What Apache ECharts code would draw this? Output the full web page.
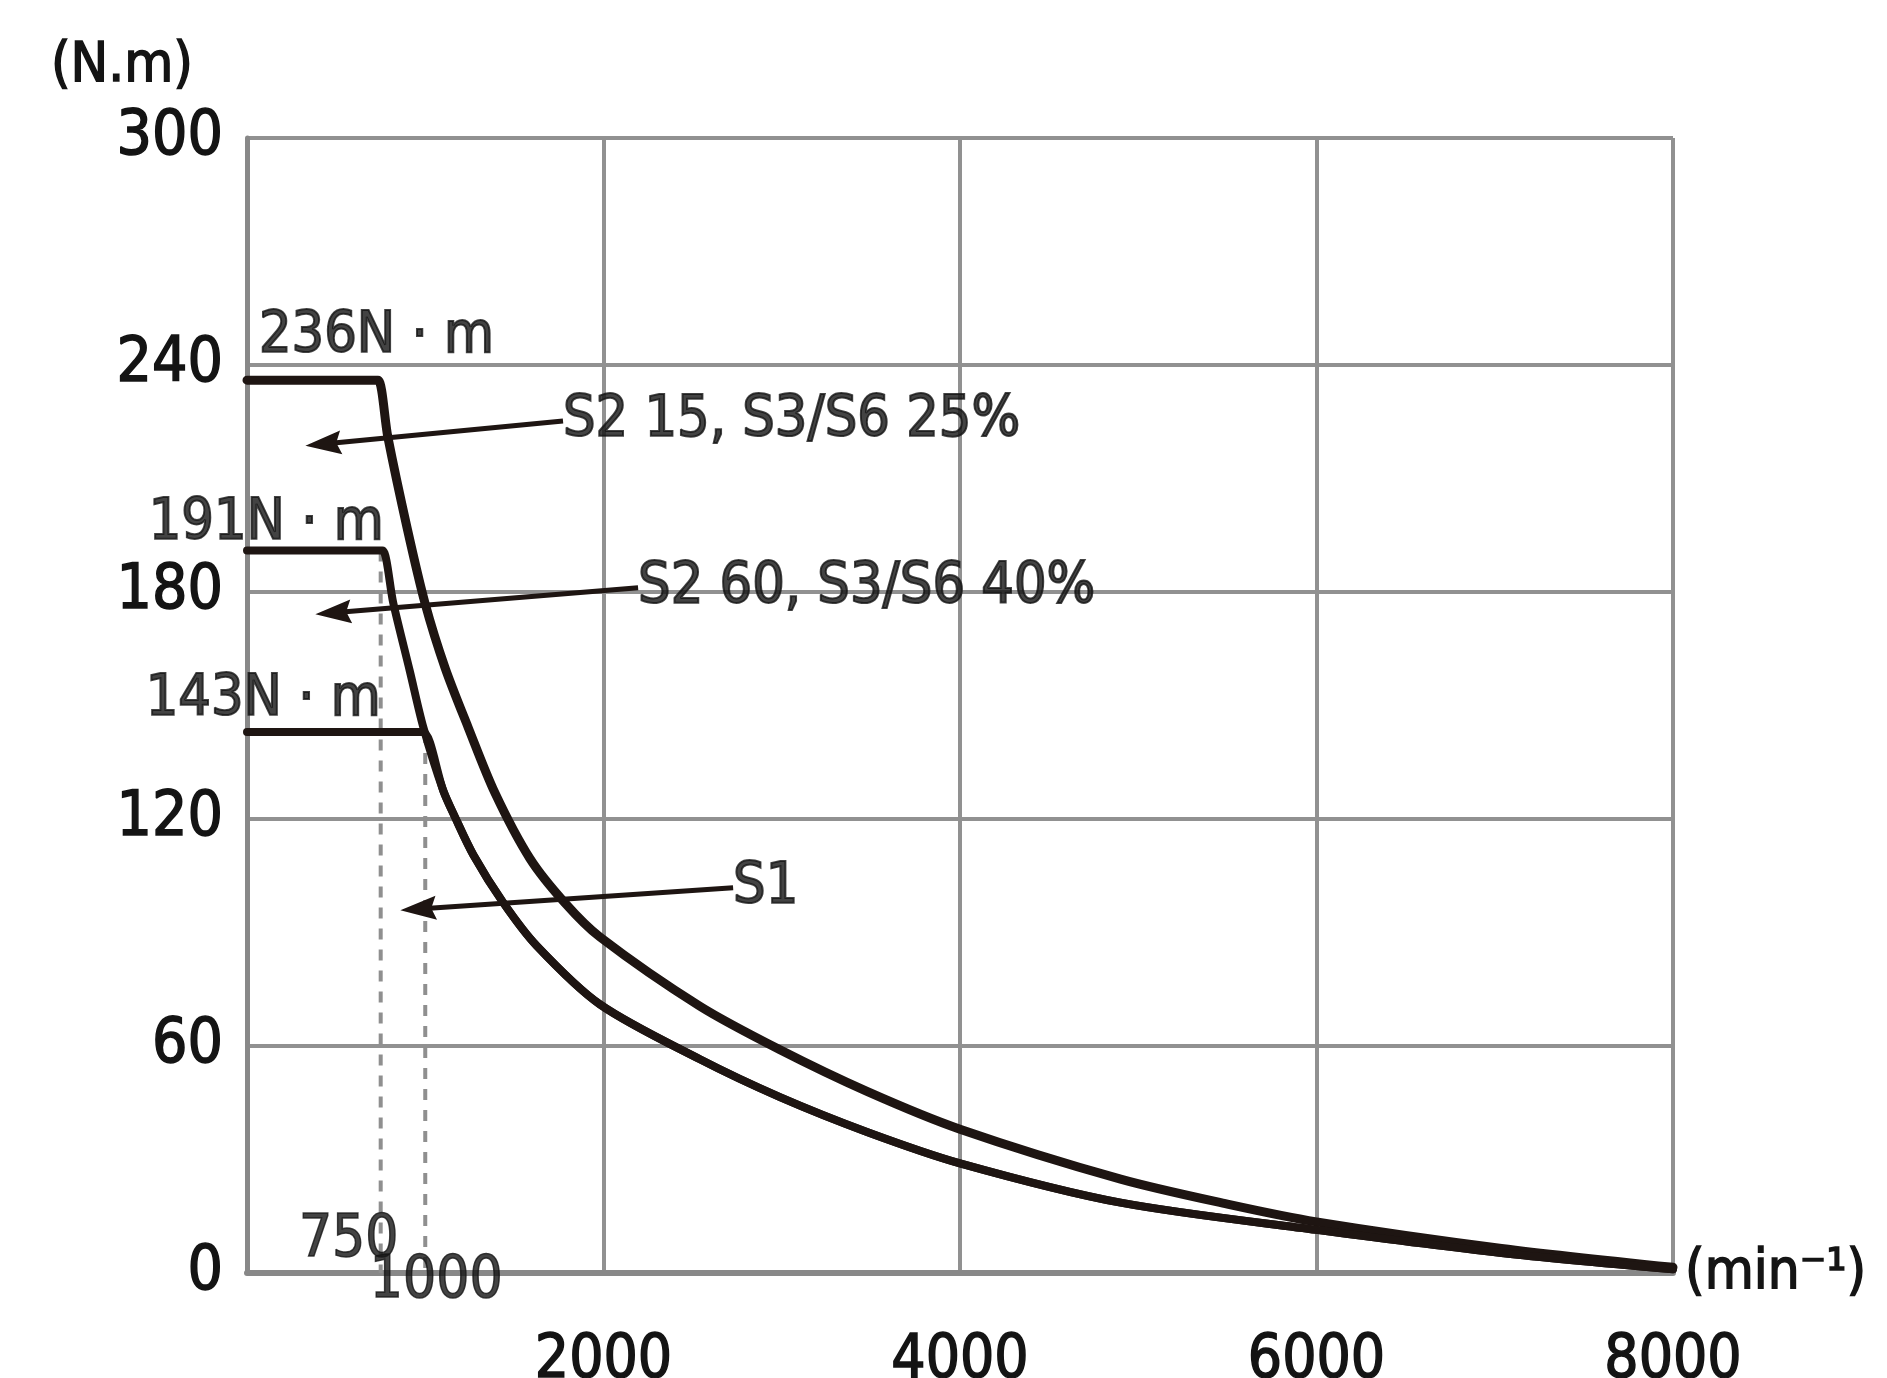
<!DOCTYPE html>
<html><head><meta charset="utf-8">
<script src="https://cdn.jsdelivr.net/npm/echarts@6/dist/echarts.min.js"></script>
<style>html,body{margin:0;padding:0;background:#fff}#c{width:1887px;height:1378px}</style>
</head><body><div id="c"></div>
<script>
const FONT = '"DejaVu Sans Condensed", "DejaVu Sans", sans-serif';
const INK = '#1e1512';
const TXT = '#141414';

// Speed (min^-1) and torque (N.m)
const speedS2_15 = [0, 700, 735, 790, 898, 999, 1111, 1240, 1391, 1588, 1784, 1980, 2541, 2990, 3478, 4000, 4901, 5500, 6000, 7038, 8000];
const torqueS2_15 = [236, 236, 236, 221, 197, 177, 160, 144.3, 126.9, 109.5, 97.8, 88.8, 70.5, 59, 48, 38, 24.8, 18.2, 13.5, 6.5, 1.5];
const speedS2_60 = [0, 730, 760, 821, 914, 989, 1101, 1167, 1270, 1436, 1625, 1980, 2541, 2990, 3478, 4000, 4901, 6000, 7038, 8000];
const torqueS2_60 = [191, 191, 191, 177, 159, 144.3, 127.5, 120.5, 110.5, 98, 86.5, 71, 56.5, 46.5, 37.3, 29, 18.6, 11.4, 5.3, 1];
const speedS1 = [0, 960, 990, 1101, 1167, 1270, 1436, 1625, 1980, 2541, 2990, 3478, 4000, 4901, 6000, 7038, 8000];
const torqueS1 = [143, 143, 143, 127.5, 120.5, 110.5, 98, 86.5, 71, 56.5, 46.5, 37.3, 29, 18.6, 11.4, 5.3, 1];

const curveNames = ['S2 15, S3/S6 25%', 'S2 60, S3/S6 40%', 'S1'];
const arrowFromSpeed = [1773, 2194, 2727];
const arrowFromTorque = [225.2, 181.1, 101.8];
const arrowToSpeed = [428, 484, 961];
const arrowToTorque = [219.1, 174.5, 96.2];

const ratingLabels = ['236N · m', '191N · m', '143N · m'];
const ratingTorques = [236, 191, 143];

const baseSpeeds = [750, 1000];
const baseSpeedLabels = ['750', '1000'];
const baseSpeedTops = [191, 143];

const yMin = 0, yMax = 300, yStep = 60;
const xMin = 0, xMax = 8000, xStep = 2000;
const yName = '(N.m)';
const xName = '(min\u207B\u00B9)';

const zip = (a, b) => a.map((v, i) => [v, b[i]]);
const ARROW = 'path://M0,0 L12,36 L0,31 L-12,36 Z M-18,0 L-18,0.01 M18,36 L18,36.01';

const chart = echarts.init(document.getElementById('c'), null, {renderer: 'canvas'});
const textBase = {fontFamily: FONT, color: TXT, textBorderColor: TXT, textBorderWidth: 2};

const curveLine = w => ({color: INK, width: w, cap: 'round', join: 'round'});

chart.setOption({
  backgroundColor: '#ffffff',
  animation: false,
  grid: {left: 247, right: 214, top: 138, bottom: 105, containLabel: false, outerBoundsMode: 'none'},
  xAxis: {
    type: 'value', min: xMin, max: xMax, interval: xStep,
    name: xName, nameLocation: 'end', nameGap: 12,
    nameTextStyle: {fontFamily: FONT, fontSize: 56, color: TXT, align: 'left', verticalAlign: 'middle', padding: [0, 0, 20, 0],
      textBorderColor: TXT, textBorderWidth: 1.5},
    axisLine: {show: true, lineStyle: {color: '#888', width: 6}},
    axisTick: {show: false},
    axisLabel: {fontFamily: FONT, fontSize: 60, color: TXT, margin: 58, textBorderColor: TXT, textBorderWidth: 1.5,
      formatter: v => v === 0 ? '' : String(v)},
    splitLine: {show: true, lineStyle: {color: '#919191', width: 4}}
  },
  yAxis: {
    type: 'value', min: yMin, max: yMax, interval: yStep,
    name: yName, nameLocation: 'end', nameGap: 72,
    nameTextStyle: {fontFamily: FONT, fontSize: 56, color: TXT, align: 'right', verticalAlign: 'middle', padding: [0, 54, 0, 0],
      textBorderColor: TXT, textBorderWidth: 1.5},
    axisLine: {show: true, lineStyle: {color: '#888', width: 5}},
    axisTick: {show: false},
    axisLabel: {fontFamily: FONT, fontSize: 62, color: TXT, margin: 24, textBorderColor: TXT, textBorderWidth: 1.5},
    splitLine: {show: true, lineStyle: {color: '#919191', width: 4}}
  },
  series: [
    // dashed base-speed guides
    ...baseSpeeds.map((s, i) => ({
      type: 'line', silent: true, symbol: 'none', z: 1,
      data: [[s, baseSpeedTops[i]], [s, 0]],
      lineStyle: {color: '#8f8f8f', width: 4, type: [11, 10]}
    })),
    {type: 'line', name: curveNames[0], data: zip(speedS2_15, torqueS2_15), symbol: 'none', smooth: 0.3, z: 5, lineStyle: curveLine(9)},
    {type: 'line', name: curveNames[1], data: zip(speedS2_60, torqueS2_60), symbol: 'none', smooth: 0.3, z: 5, lineStyle: curveLine(8)},
    {type: 'line', name: curveNames[2], data: zip(speedS1, torqueS1), symbol: 'none', smooth: 0.3, z: 5, lineStyle: curveLine(8)},
    // pointer arrows
    {type: 'lines', coordinateSystem: 'cartesian2d', silent: true, z: 6,
     symbol: ['none', ARROW], symbolSize: [0, 36],
     lineStyle: {color: INK, width: 5, opacity: 1},
     data: curveNames.map((n, i) => ({coords: [[arrowFromSpeed[i], arrowFromTorque[i]], [arrowToSpeed[i], arrowToTorque[i]]]}))},
    // curve names at arrow tails
    {type: 'scatter', silent: true, symbolSize: 0, z: 7,
     data: curveNames.map((n, i) => ({name: n, value: [arrowFromSpeed[i], arrowFromTorque[i]]})),
     label: {show: true, position: 'right', distance: 0, formatter: p => p.name, fontSize: 57, ...textBase}},
    // rated torque labels
    {type: 'scatter', silent: true, symbolSize: 0, z: 7, clip: false,
     data: [
       {name: ratingLabels[0], value: [0, ratingTorques[0]], label: {position: 'right', offset: [12, -43]}},
       {name: ratingLabels[1], value: [baseSpeeds[0], ratingTorques[1]], label: {position: 'left', offset: [3, -26]}},
       {name: ratingLabels[2], value: [baseSpeeds[0], ratingTorques[2]], label: {position: 'left', offset: [0, -32]}}
     ],
     label: {show: true, distance: 0, formatter: p => p.name, fontSize: 57, ...textBase}},
    // base speed labels
    {type: 'scatter', silent: true, symbolSize: 0, z: 7, clip: false,
     data: [
       {name: baseSpeedLabels[0], value: [baseSpeeds[0], 0], label: {offset: [-32, -32]}},
       {name: baseSpeedLabels[1], value: [baseSpeeds[1], 0], label: {offset: [11, 9]}}
     ],
     label: {show: true, position: 'inside', formatter: p => p.name, fontSize: 58, fontFamily: FONT, color: TXT,
       textBorderColor: TXT, textBorderWidth: 1.5}}
  ]
});
</script></body></html>
